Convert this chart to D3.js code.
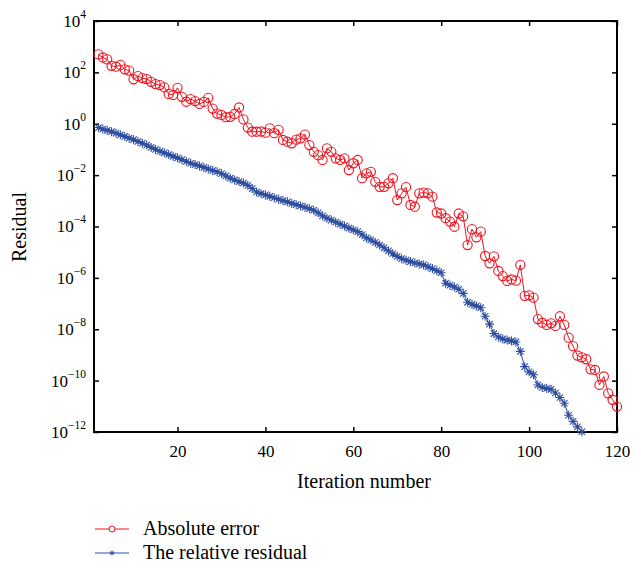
<!DOCTYPE html>
<html>
<head>
<meta charset="utf-8">
<script src="https://cdn.jsdelivr.net/npm/d3@7"></script>
<style>
  html, body { margin: 0; padding: 0; background: #fff; }
  svg { display: block; }
  svg text { font-family: "Liberation Serif", "DejaVu Serif", serif; }
</style>
</head>
<body>
<div id="chart"></div>
<script>
// Residual history; both series start at iteration 2
const firstIteration = 2;

const absoluteError = [
  5.0e2, 3.8e2, 3.2e2, 1.8e2, 1.66e2, 1.95e2, 1.32e2, 1.17e2, 54, 72,
  60, 55, 43, 35, 32, 26, 14.5, 13.2, 25, 11.2,
  7.2, 9.1, 7.6, 5.9, 7.1, 10.2, 3.9, 2.5, 2.2, 1.8,
  1.86, 2.4, 4.3, 1.48, 0.71, 0.49, 0.49, 0.5, 0.45, 0.66,
  0.43, 0.58, 0.234, 0.2, 0.174, 0.24, 0.27, 0.38, 0.148, 0.081,
  0.06, 0.039, 0.11, 0.081, 0.045, 0.039, 0.045, 0.0158, 0.029, 0.039,
  0.0076, 0.0117, 0.0135, 0.0055, 0.0035, 0.0035, 0.0048, 0.0076, 0.00107, 0.00195,
  0.0034, 6.9e-4, 5.9e-4, 1.95e-3, 2.1e-3, 1.95e-3, 1.45e-3, 3.5e-4, 3.2e-4, 2.1e-4,
  1.55e-4, 9.8e-5, 3.2e-4, 2.5e-4, 1.9e-5, 7.9e-5, 3.8e-5, 6.3e-5, 7.1e-6, 3.7e-6,
  6.9e-6, 1.86e-6, 1.17e-6, 7.6e-7, 8.7e-7, 7.8e-7, 3.2e-6, 2.0e-7, 2.1e-7, 1.7e-7,
  2.5e-8, 1.8e-8, 1.48e-8, 1.7e-8, 1.35e-8, 3.2e-8, 1.48e-8, 4.7e-9, 2.2e-9, 9.5e-10,
  8.1e-10, 6.8e-10, 2.75e-10, 2.6e-10, 6.8e-11, 1.45e-10, 3.2e-11, 1.8e-11, 9.8e-12
];

const relativeResidual = [
  0.71, 0.62, 0.55, 0.49, 0.43, 0.37, 0.32, 0.275, 0.24, 0.204,
  0.174, 0.148, 0.12, 0.1, 0.085, 0.074, 0.063, 0.054, 0.047, 0.04,
  0.034, 0.029, 0.0257, 0.0229, 0.02, 0.0174, 0.0151, 0.0135, 0.0115, 0.0093,
  0.0076, 0.0065, 0.0056, 0.0049, 0.004, 0.003, 0.0022, 0.0019, 0.0017, 0.0015,
  0.00132, 0.00115, 0.00102, 9.1e-4, 7.9e-4, 7.1e-4, 6.3e-4, 5.6e-4, 4.9e-4, 4.3e-4,
  3.4e-4, 2.6e-4, 2.1e-4, 1.78e-4, 1.48e-4, 1.23e-4, 1.05e-4, 8.7e-5, 7.4e-5, 6.3e-5,
  4.8e-5, 3.6e-5, 3.0e-5, 2.4e-5, 1.9e-5, 1.48e-5, 1.12e-5, 8.7e-6, 6.9e-6, 5.6e-6,
  4.9e-6, 4.3e-6, 3.8e-6, 3.5e-6, 3.2e-6, 2.7e-6, 2.3e-6, 1.9e-6, 1.58e-6, 6.2e-7,
  5.2e-7, 4.4e-7, 3.6e-7, 2.5e-7, 1.12e-7, 9.3e-8, 8.1e-8, 6.9e-8, 3.2e-8, 1.58e-8,
  6.8e-9, 5.0e-9, 4.2e-9, 3.8e-9, 3.5e-9, 3.2e-9, 1.38e-9, 3.5e-10, 2.2e-10, 1.7e-10,
  6.8e-11, 5.4e-11, 5.0e-11, 4.6e-11, 3.3e-11, 2.2e-11, 1.32e-11, 4.5e-12, 2.6e-12, 1.58e-12,
  1.02e-12
];

const xTickValues = [20, 40, 60, 80, 100, 120];
const yTickValues = [1e4, 1e2, 1e0, 1e-2, 1e-4, 1e-6, 1e-8, 1e-10, 1e-12];
const yTickExponents = ["4", "2", "0", "\u22122", "\u22124", "\u22126", "\u22128", "\u221210", "\u221212"];
const seriesNames = ["Absolute error", "The relative residual"];
const xLabel = "Iteration number";
const yLabel = "Residual";

(function () {
  const width = 635;
  const height = 564;
  const plot = { left: 94, right: 617, top: 21, bottom: 432 };
  const serif = '"Liberation Serif", "DejaVu Serif", serif';

  const red = "#f0121e";
  const blue = "#2c4c9f";

  const svg = d3
    .select("#chart")
    .append("svg")
    .attr("width", width)
    .attr("height", height)
    .attr("viewBox", [0, 0, width, height])
    .attr("font-family", serif);

  const x = d3.scaleLinear().domain([1, 120]).range([plot.left, plot.right]);
  const y = d3.scaleLog().domain([1e-12, 1e4]).range([plot.bottom, plot.top]);

  const toPoints = (arr) => arr.map((v, i) => ({ it: firstIteration + i, v }));
  const absPts = toPoints(absoluteError);
  const relPts = toPoints(relativeResidual);

  // axes: ticks point inwards on all four sides
  const styleAxis = (g) => {
    g.attr("font-family", serif);
    g.select(".domain").remove();
    g.selectAll(".tick line").attr("stroke", "#000").attr("stroke-width", 1.5);
    g.selectAll(".tick text").attr("fill", "#000").attr("font-family", serif);
  };

  svg
    .append("g")
    .attr("transform", `translate(0,${plot.bottom})`)
    .call(d3.axisBottom(x).tickValues(xTickValues).tickSize(-5).tickPadding(13))
    .call(styleAxis)
    .selectAll(".tick text")
    .attr("font-size", 17);

  svg
    .append("g")
    .attr("transform", `translate(0,${plot.top})`)
    .call(d3.axisTop(x).tickValues(xTickValues).tickSize(-5).tickFormat(""))
    .call(styleAxis);

  svg
    .append("g")
    .attr("transform", `translate(${plot.right},0)`)
    .call(d3.axisRight(y).tickValues(yTickValues).tickSize(-5).tickFormat(""))
    .call(styleAxis);

  const left = svg
    .append("g")
    .attr("transform", `translate(${plot.left},0)`)
    .call(d3.axisLeft(y).tickValues(yTickValues).tickSize(-5).tickPadding(8).tickFormat(""))
    .call(styleAxis);

  left
    .selectAll(".tick text")
    .attr("font-size", 17)
    .each(function (d, i) {
      const t = d3.select(this);
      t.append("tspan").text("10");
      t.append("tspan")
        .attr("dy", -9)
        .attr("font-size", 11.5)
        .text(yTickExponents[i]);
    });

  // frame
  svg
    .append("rect")
    .attr("x", plot.left)
    .attr("y", plot.top)
    .attr("width", plot.right - plot.left)
    .attr("height", plot.bottom - plot.top)
    .attr("fill", "none")
    .attr("stroke", "#000")
    .attr("stroke-width", 2);

  const line = d3
    .line()
    .x((d) => x(d.it))
    .y((d) => y(d.v));

  // blue series: asterisk markers
  const star = "M-4.5,0H4.5M0,-4.5V4.5M-3.2,-3.2L3.2,3.2M-3.2,3.2L3.2,-3.2";

  svg
    .append("path")
    .datum(relPts)
    .attr("d", line)
    .attr("fill", "none")
    .attr("stroke", blue)
    .attr("stroke-width", 1);

  svg
    .append("g")
    .selectAll("path")
    .data(relPts)
    .join("path")
    .attr("transform", (d) => `translate(${x(d.it)},${y(d.v)})`)
    .attr("d", star)
    .attr("fill", "none")
    .attr("stroke", blue)
    .attr("stroke-width", 1.1);

  // red series: open circles
  svg
    .append("path")
    .datum(absPts)
    .attr("d", line)
    .attr("fill", "none")
    .attr("stroke", red)
    .attr("stroke-width", 1);

  svg
    .append("g")
    .selectAll("circle")
    .data(absPts)
    .join("circle")
    .attr("cx", (d) => x(d.it))
    .attr("cy", (d) => y(d.v))
    .attr("r", 4.6)
    .attr("fill", "none")
    .attr("stroke", red)
    .attr("stroke-width", 1.1);

  // axis titles
  svg
    .append("text")
    .attr("x", 364)
    .attr("y", 488)
    .attr("text-anchor", "middle")
    .attr("font-size", 20)
    .text(xLabel);

  svg
    .append("text")
    .attr("transform", `translate(26,227) rotate(-90)`)
    .attr("text-anchor", "middle")
    .attr("font-size", 20)
    .text(yLabel);

  // legend
  const legend = svg.append("g").attr("transform", "translate(95,0)");
  const rows = [
    { name: seriesNames[0], color: red, y: 529, mark: "circle" },
    { name: seriesNames[1], color: blue, y: 553, mark: "star" },
  ];
  rows.forEach((r) => {
    const g = legend.append("g").attr("transform", `translate(0,${r.y})`);
    g.append("line")
      .attr("x1", 0)
      .attr("x2", 34)
      .attr("stroke", r.color)
      .attr("stroke-width", 1);
    if (r.mark === "circle") {
      g.append("circle")
        .attr("cx", 17)
        .attr("r", 3)
        .attr("fill", "#fff")
        .attr("stroke", r.color);
    } else {
      g.append("path")
        .attr("transform", "translate(17,0) scale(0.55)")
        .attr("d", star)
        .attr("stroke", r.color)
        .attr("stroke-width", 1.6);
    }
    g.append("text")
      .attr("x", 48)
      .attr("y", 6)
      .attr("font-size", 20)
      .text(r.name);
  });
})();
</script>
</body>
</html>
